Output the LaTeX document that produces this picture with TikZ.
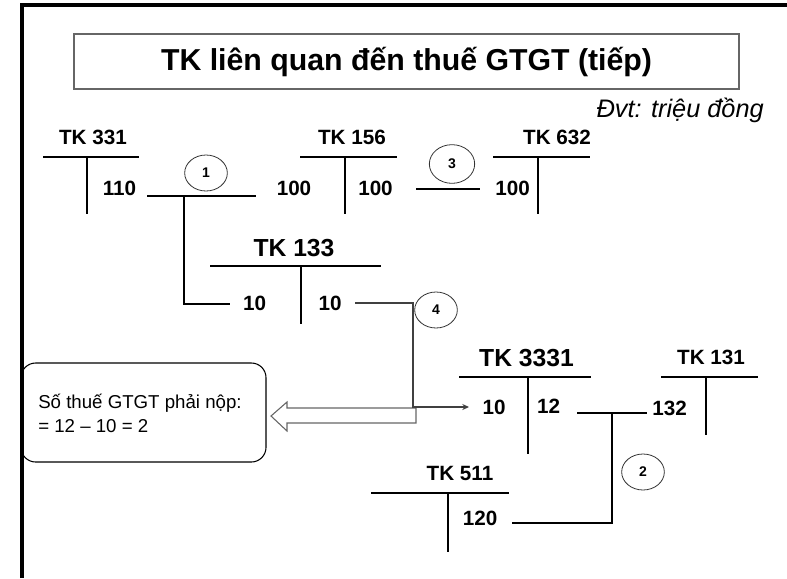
\documentclass[tikz,border=0pt]{standalone}
\usepackage{fontspec}
\setmainfont{Liberation Sans}
\usetikzlibrary{arrows.meta,shapes.geometric}
\tikzset{
  lbl/.style={inner sep=0pt,font=\fontsize{15.5}{18}\selectfont\bfseries},
  biglbl/.style={inner sep=0pt,font=\fontsize{18.5}{22}\selectfont\bfseries},
  num/.style={inner sep=0pt,font=\fontsize{15.5}{18}\selectfont\bfseries},
  tline/.style={line width=0.8pt,black},
  conn/.style={line width=1.5pt,black},
  thinconn/.style={line width=0.8pt,black!75},
  stepcirc/.style={draw=black!80,line width=0.6pt,ellipse,minimum width=32pt,minimum height=27pt,inner sep=0pt,font=\fontsize{10.5}{12}\selectfont\bfseries}
}
\begin{document}
\begin{tikzpicture}[x=0.75pt,y=-0.75pt]
\useasboundingbox (0,0) rectangle (787,578);
% frame
\draw[line width=2.3pt] (22,578) -- (22,5) -- (787,5);
% title
\draw[black!60,line width=0.8pt] (74,34) rectangle (739,89);
\node[inner sep=0pt,font=\fontsize{22.7}{26}\selectfont\bfseries] (title) at (406.5,62) {TK liên quan đến thuế GTGT (tiếp)};
\node[inner sep=0pt,font=\fontsize{19}{22}\selectfont\itshape,anchor=east] (dvt) at (764,110) {Đvt: triệu đồng};

% TK 331
\node[lbl] (tk331) at (93,137) {TK 331};
\coordinate (a331l) at (43,157); \coordinate (a331r) at (139,157);
\coordinate (a331t) at (87,157); \coordinate (a331b) at (87,214);
\draw[tline] (a331l) -- (a331r); \draw[tline] (a331t) -- (a331b);
\node[num] (n110) at (119.5,188) {110};

% TK 156
\node[lbl] (tk156) at (352,137) {TK 156};
\coordinate (a156l) at (300,157); \coordinate (a156r) at (397,157);
\coordinate (a156t) at (345,157); \coordinate (a156b) at (345,214);
\draw[tline] (a156l) -- (a156r); \draw[tline] (a156t) -- (a156b);
\node[num] (n100a) at (294,188) {100};
\node[num] (n100b) at (375.5,188) {100};

% TK 632
\node[lbl] (tk632) at (557,137) {TK 632};
\coordinate (a632l) at (493,157); \coordinate (a632r) at (590,157);
\coordinate (a632t) at (538,157); \coordinate (a632b) at (538,214);
\draw[tline] (a632l) -- (a632r); \draw[tline] (a632t) -- (a632b);
\node[num] (n100c) at (512.5,188) {100};

% TK 133
\node[biglbl] (tk133) at (294,248) {TK 133};
\coordinate (a133l) at (210,266); \coordinate (a133r) at (381,266);
\coordinate (a133t) at (301,266); \coordinate (a133b) at (301,324);
\draw[tline] (a133l) -- (a133r); \draw[tline] (a133t) -- (a133b);
\node[num] (n10a) at (254.5,303) {10};
\node[num] (n10b) at (330,303) {10};

% connector 1
\coordinate (c1a) at (147,196); \coordinate (c1b) at (256,196);
\coordinate (c1j) at (184,196); \coordinate (c1d) at (230,304);
\draw[conn] (c1a) -- (c1b);
\draw[conn] (c1j) |- (c1d);
\node[stepcirc] (s1) at (206,173) {1};

% connector 3
\coordinate (c3a) at (416,189); \coordinate (c3b) at (480,189);
\draw[tline] (c3a) -- (c3b);
\node[stepcirc,minimum width=34pt,minimum height=29pt] (s3) at (452,164) {3};

% hollow arrow
\draw[black!60,fill=white,line width=0.8pt] (416,408) -- (287,408) -- (287,402) -- (271,416) -- (287,431) -- (287,423) -- (416,423) -- cycle;

% connector 4
\coordinate (c4a) at (355,303); \coordinate (c4k) at (413,303);
\coordinate (c4m) at (413,407); \coordinate (c4e) at (469,407);
\draw[thinconn,-{Stealth[length=5pt,width=4.5pt]}] (c4a) -- (c4k) -- (c4m) -- (c4e);
\node[stepcirc] (s4) at (436,310) {4};

% rounded box
\draw[black,line width=0.8pt,rounded corners=11pt,fill=white] (21,363) rectangle (266,462);
\node[inner sep=0pt,anchor=west,font=\fontsize{14}{17}\selectfont] (box1) at (38,403) {Số thuế GTGT phải nộp:};
\node[inner sep=0pt,anchor=west,font=\fontsize{14}{17}\selectfont] (box2) at (38,426) {= 12 – 10 = 2};
\draw[line width=2.3pt] (22,363) -- (22,462);

% TK 3331
\node[biglbl] (tk3331) at (526.5,358) {TK 3331};
\coordinate (a3331l) at (459,377); \coordinate (a3331r) at (591,377);
\coordinate (a3331t) at (528,377); \coordinate (a3331b) at (528,454);
\draw[tline] (a3331l) -- (a3331r); \draw[tline] (a3331t) -- (a3331b);
\node[num] (n10c) at (494,407) {10};
\node[num] (n12) at (548.5,406) {12};

% TK 131
\node[lbl] (tk131) at (711,357) {TK 131};
\coordinate (a131l) at (661,377); \coordinate (a131r) at (758,377);
\coordinate (a131t) at (706,377); \coordinate (a131b) at (706,435);
\draw[tline] (a131l) -- (a131r); \draw[conn] (a131t) -- (a131b);
\node[num] (n132) at (669.5,408) {132};

% TK 511
\node[lbl] (tk511) at (460,473) {TK 511};
\coordinate (a511l) at (371,493); \coordinate (a511r) at (509,493);
\coordinate (a511t) at (448,493); \coordinate (a511b) at (448,552);
\draw[tline] (a511l) -- (a511r); \draw[tline] (a511t) -- (a511b);
\node[num] (n120) at (480,518) {120};

% connector 2
\coordinate (c2a) at (577,413); \coordinate (c2b) at (647,413);
\coordinate (c2j) at (612,413); \coordinate (c2d) at (512,523);
\draw[conn] (c2a) -- (c2b);
\draw[conn] (c2j) |- (c2d);
\node[stepcirc] (s2) at (643,472) {2};
\end{tikzpicture}
\end{document}
